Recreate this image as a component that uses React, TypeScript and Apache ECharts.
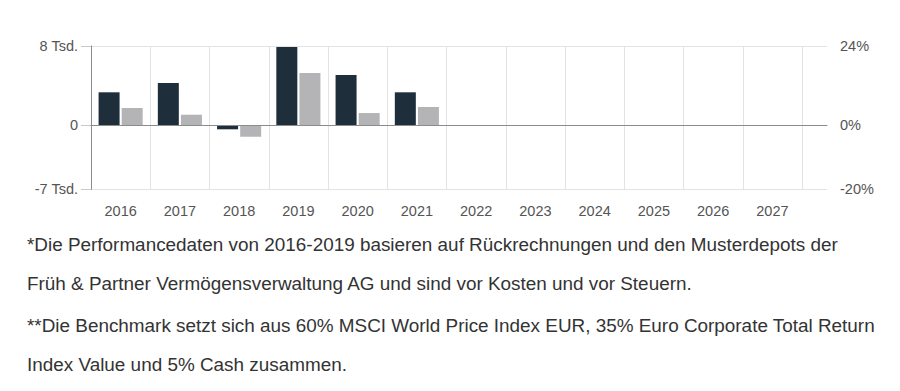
import React, { useEffect, useRef } from "react";
import * as echarts from "echarts";

const categories = ["2016", "2017", "2018", "2019", "2020", "2021", "2022", "2023", "2024", "2025", "2026", "2027"];
const portfolioValues = [3330, 4270, -400, 8000, 5080, 3330, null, null, null, null, null, null];
const benchmarkValues = [1750, 1070, -1150, 5280, 1240, 1850, null, null, null, null, null, null];
const tickValues = [-6450, 0, 8000];
const leftTickLabels = ["-7 Tsd.", "0", "8 Tsd."];
const rightTickLabels = ["-20%", "0%", "24%"];
const footnoteLines = [
  ["*Die Performancedaten von 2016-2019 basieren auf Rückrechnungen und den Musterdepots der",
   "Früh & Partner Vermögensverwaltung AG und sind vor Kosten und vor Steuern."],
  ["**Die Benchmark setzt sich aus 60% MSCI World Price Index EUR, 35% Euro Corporate Total Return",
   "Index Value und 5% Cash zusammen."],
];

const Y_MIN = tickValues[0];
const Y_MAX = tickValues[tickValues.length - 1];
const LABEL_FONT = "'Liberation Sans', Arial, sans-serif";

function labelFor(labels: string[]) {
  return (v: number) => {
    const i = tickValues.findIndex((t) => Math.abs(t - v) < 1e-6);
    return i >= 0 ? labels[i] : "";
  };
}

export default function App() {
  const ref = useRef<HTMLDivElement>(null);
  useEffect(() => {
    if (!ref.current) return;
    const chart = echarts.init(ref.current, undefined, { renderer: "svg" });
    chart.setOption({
      animation: false,
      grid: [
        { left: 91, right: 73, top: 46, height: 143.3, containLabel: false },
        { left: 91, width: 711, top: 46, height: 143.3, containLabel: false },
      ],
      xAxis: [
        {
          gridIndex: 0, type: "value", min: 0, max: 1, z: 7,
          axisLabel: { show: false }, axisTick: { show: false }, splitLine: { show: false },
          axisLine: { show: true, onZero: true, lineStyle: { color: "#8c8c8c", width: 1 } },
        },
        {
          gridIndex: 1, type: "category", data: categories, boundaryGap: true,
          axisLine: { show: false },
          axisTick: { show: true, length: 11, interval: 0, lineStyle: { color: "#e3e3e3" } },
          splitLine: { show: true, interval: 0, lineStyle: { color: "#e3e3e3" } },
          axisLabel: { interval: 0, color: "#555", fontSize: 14.5, fontFamily: LABEL_FONT, margin: 14 },
        },
      ],
      yAxis: [
        {
          gridIndex: 0, type: "value", position: "left", min: Y_MIN, max: Y_MAX, z: 5,
          axisLine: { show: true, lineStyle: { color: "#8c8c8c" } },
          axisTick: { show: true, length: 10, customValues: tickValues, lineStyle: { color: "#c8c8c8" } },
          axisLabel: { customValues: tickValues, formatter: labelFor(leftTickLabels), color: "#555", fontSize: 14.5, fontFamily: LABEL_FONT, margin: 13 },
          splitLine: { show: true, lineStyle: { color: "#e3e3e3" } },
        },
        {
          gridIndex: 0, type: "value", position: "right", min: Y_MIN, max: Y_MAX,
          axisLine: { show: false },
          axisTick: { show: false, customValues: tickValues },
          axisLabel: { customValues: tickValues, formatter: labelFor(rightTickLabels), color: "#555", fontSize: 14.5, fontFamily: LABEL_FONT, margin: 13 },
          splitLine: { show: false },
        },
        {
          gridIndex: 1, type: "value", min: Y_MIN, max: Y_MAX, show: false,
          splitLine: { show: false },
        },
      ],
      series: [
        {
          type: "bar", xAxisIndex: 1, yAxisIndex: 2, data: portfolioValues,
          barWidth: 21, barGap: "10%", itemStyle: { color: "#1f2e3b" },
        },
        {
          type: "bar", xAxisIndex: 1, yAxisIndex: 2, data: benchmarkValues,
          barWidth: 21, barGap: "10%", itemStyle: { color: "#b4b4b7" },
        },
      ],
    });
    return () => chart.dispose();
  }, []);

  return (
    <div style={{ position: "absolute", left: 0, top: 0, width: 900, height: 391, background: "#fff", overflow: "hidden" }}>
      <div ref={ref} style={{ position: "absolute", left: 0, top: 0, width: 900, height: 225 }} />
      <div style={{ position: "absolute", left: 27, top: 226, fontFamily: LABEL_FONT, fontSize: 18.9, color: "#333", lineHeight: "38.5px" }}>
        {footnoteLines.map((para, i) => (
          <div key={i} style={{ marginBottom: i === 0 ? 4 : 0 }}>
            {para.map((line, j) => (
              <div key={j} style={{ whiteSpace: "nowrap" }}>{line}</div>
            ))}
          </div>
        ))}
      </div>
    </div>
  );
}
